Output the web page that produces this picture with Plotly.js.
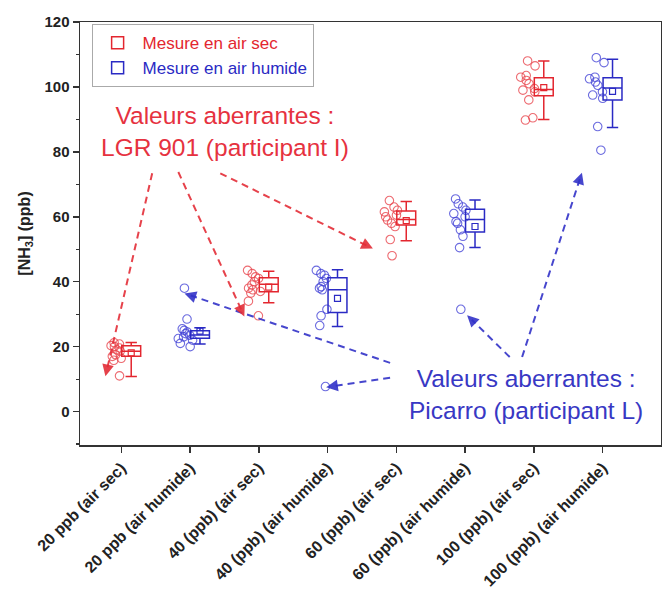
<!DOCTYPE html>
<html>
<head>
<meta charset="utf-8">
<script src="https://cdn.plot.ly/plotly-3.0.1.min.js"></script>
<style>
  html, body { margin: 0; padding: 0; background: #ffffff; }
  #chart { width: 662px; height: 596px; }
</style>
</head>
<body>
<div id="chart"></div>
<script>
// Categories on the x axis (one per concentration / humidity condition)
const categories = [
  '20 ppb (air sec)', '20 ppb (air humide)',
  '40 (ppb) (air sec)', '40 (ppb) (air humide)',
  '60 (ppb) (air sec)', '60 (ppb) (air humide)',
  '100 (ppb) (air sec)', '100 (ppb) (air humide)'
];
// Which categories belong to the dry-air series (the others are humid air)
const isDry = [true, false, true, false, true, false, true, false];

// Individual participant results, in ppb
const pts20sec  = [21.2, 20.8, 20.3, 20.0, 19.6, 19.0, 18.6, 17.5, 17.0, 16.4, 15.8, 11.0];
const pts20hum  = [38.0, 28.5, 25.5, 25.0, 24.5, 24.0, 23.5, 23.0, 22.5, 22.0, 21.0, 20.0];
const pts40sec  = [43.5, 42.5, 41.5, 41.0, 40.0, 39.0, 38.0, 37.5, 37.0, 36.5, 34.0, 29.5];
const pts40hum  = [43.5, 42.5, 42.0, 41.0, 40.0, 38.5, 38.0, 37.5, 31.5, 29.5, 26.5, 7.7];
const pts60sec  = [65.0, 63.0, 62.0, 61.5, 60.5, 60.0, 59.0, 58.0, 57.0, 53.0, 48.0];
const pts60hum  = [65.5, 64.0, 63.0, 62.0, 61.0, 60.0, 58.5, 58.0, 56.0, 54.0, 50.5, 31.5];
const pts100sec = [108.0, 106.5, 103.5, 103.0, 102.0, 101.0, 99.5, 99.0, 98.5, 96.0, 90.5, 89.8];
const pts100hum = [109.0, 107.5, 103.0, 102.5, 101.5, 100.5, 98.5, 97.5, 96.5, 87.8, 80.5];
const pointsByCategory = [pts20sec, pts20hum, pts40sec, pts40hum, pts60sec, pts60hum, pts100sec, pts100hum];

// Box statistics per category (ppb)
const boxQ1       = [17.0, 22.6, 36.9, 30.5, 57.5, 55.3, 97.3, 96.0];
const boxMedian   = [18.6, 23.6, 39.2, 37.5, 59.2, 59.2, 99.2, 99.7];
const boxQ3       = [20.3, 24.9, 41.2, 41.2, 61.8, 62.3, 102.8, 102.8];
const whiskerLow  = [10.8, 20.8, 33.5, 26.2, 52.6, 50.5, 90.0, 87.5];
const whiskerHigh = [21.3, 25.8, 43.2, 43.7, 64.7, 65.2, 108.0, 108.5];

// Series labels
const seriesNames = ['Mesure en air sec', 'Mesure en air humide'];

// Styling
const RED = '#e3262f', BLUE = '#2a2ac4';
const RED_PTS = 'rgba(232,70,78,0.8)', BLUE_PTS = 'rgba(70,70,215,0.8)';
const BOX_SHIFT = 0.145, BOX_WIDTH = 0.275;
const X_RANGE = [-0.6, 7.85], Y_RANGE = [-10.3, 120];
const MARGIN = {l: 80, r: 1, t: 22, b: 151};
const W = 662, H = 596;
const FONT = 'Liberation Sans, Arial, sans-serif';

const mean = a => a.reduce((s, v) => s + v, 0) / a.length;

function seriesTraces(dry, color, ptsColor, name) {
  const idx = categories.map((_, i) => i).filter(i => isDry[i] === dry);
  const xs = idx.map(i => i + BOX_SHIFT);
  const pick = arr => idx.map(i => arr[i]);

  // box from the summary statistics
  const box = {
    type: 'box', name: name, legendgroup: name,
    x: xs, q1: pick(boxQ1), median: pick(boxMedian), q3: pick(boxQ3),
    lowerfence: pick(whiskerLow), upperfence: pick(whiskerHigh),
    width: BOX_WIDTH, whiskerwidth: 0.6, boxpoints: false,
    line: {color: color, width: 1.5}, fillcolor: 'rgba(255,255,255,0)',
    hoverinfo: 'skip'
  };

  // raw results drawn beside each box
  const px = [], py = [];
  idx.forEach(i => pointsByCategory[i].forEach(v => { px.push(i + BOX_SHIFT); py.push(v); }));
  const pts = {
    type: 'box', x: px, y: py, showlegend: false, legendgroup: name,
    boxpoints: 'all', jitter: 0.95, pointpos: -2.75, width: BOX_WIDTH,
    line: {width: 0, color: 'rgba(0,0,0,0)'}, fillcolor: 'rgba(0,0,0,0)',
    marker: {symbol: 'circle-open', size: 8.5, color: ptsColor, line: {width: 1.1, color: ptsColor}},
    hoveron: 'points'
  };

  // mean of each category as a small open square
  const means = {
    type: 'scatter', mode: 'markers', showlegend: false, legendgroup: name,
    x: xs, y: idx.map(i => mean(pointsByCategory[i])),
    marker: {symbol: 'square-open', size: 6, color: color, line: {width: 1.2, color: color}}
  };
  return [pts, box, means];
}

const data = [
  ...seriesTraces(true, RED, RED_PTS, '<span style="color:' + RED + '">' + seriesNames[0] + '</span>'),
  ...seriesTraces(false, BLUE, BLUE_PTS, '<span style="color:' + BLUE + '">' + seriesNames[1] + '</span>')
];

// Dashed arrows pointing at the outlying results: [fromX, fromY, toX, toY]
const redArrows = [
  [0.45, 73.4, -0.23, 10.9],
  [0.83, 73.8, 1.79, 29.3],
  [1.44, 73.4, 3.66, 50.2]
];
const blueArrows = [
  [3.91, 15.0, 0.92, 36.4],
  [3.91, 10.4, 2.98, 7.5],
  [5.65, 16.8, 5.03, 29.7],
  [5.83, 16.8, 6.70, 73.6]
];

const pxPerX = (W - MARGIN.l - MARGIN.r) / (X_RANGE[1] - X_RANGE[0]);
const pxPerY = (H - MARGIN.t - MARGIN.b) / (Y_RANGE[1] - Y_RANGE[0]);
const HEAD = 11;

const shapes = [], annotations = [];
function addArrows(list, color) {
  list.forEach(([fx, fy, tx, ty]) => {
    const dxp = (fx - tx) * pxPerX, dyp = (fy - ty) * pxPerY;
    const len = Math.hypot(dxp, dyp);
    const f = (HEAD * 0.6) / len;
    shapes.push({
      type: 'line', xref: 'x', yref: 'y',
      x0: fx, y0: fy, x1: tx + (fx - tx) * f, y1: ty + (fy - ty) * f,
      line: {color: color, width: 2, dash: '7px,5px'}
    });
    annotations.push({
      x: tx, y: ty, xref: 'x', yref: 'y', text: '',
      showarrow: true, arrowhead: 2, arrowsize: 1.3, arrowwidth: 1.8,
      arrowcolor: color, standoff: 0,
      ax: dxp / len * HEAD, ay: -dyp / len * HEAD
    });
  });
}
addArrows(redArrows, 'rgba(227,45,55,0.9)');
addArrows(blueArrows, 'rgba(50,50,200,0.9)');

annotations.push({
  x: 1.51, y: 86.2, xref: 'x', yref: 'y', showarrow: false,
  xanchor: 'center', yanchor: 'middle', align: 'center',
  text: 'Valeurs aberrantes :<br>LGR 901 (participant I)',
  font: {family: FONT, size: 24.5, color: '#e6323f'}
});
annotations.push({
  x: 5.88, y: 5.4, xref: 'x', yref: 'y', showarrow: false,
  xanchor: 'center', yanchor: 'middle', align: 'center',
  text: 'Valeurs aberrantes :<br>Picarro (participant L)',
  font: {family: FONT, size: 24.5, color: '#3838c4'}
});

const layout = {
  width: W, height: H, margin: MARGIN,
  paper_bgcolor: '#ffffff', plot_bgcolor: '#ffffff',
  font: {family: FONT, color: '#222222'},
  showlegend: true,
  legend: {
    x: 0.02, y: 0.995, xanchor: 'left', yanchor: 'top',
    bgcolor: '#ffffff', bordercolor: '#aaaaaa', borderwidth: 1,
    font: {family: FONT, size: 17}, itemwidth: 40, tracegroupgap: 0
  },
  xaxis: {
    range: X_RANGE, tickmode: 'array',
    tickvals: categories.map((_, i) => i), ticktext: categories,
    tickangle: -45, ticks: 'outside', ticklen: 6, tickwidth: 1.5, tickcolor: '#333',
    tickfont: {family: FONT, size: 16, weight: 'bold', color: '#222'},
    showline: true, linecolor: '#333', linewidth: 1.5, mirror: true,
    showgrid: false, zeroline: false, automargin: false
  },
  yaxis: {
    range: Y_RANGE, tickmode: 'linear', tick0: 0, dtick: 20,
    ticks: 'outside', ticklen: 6, tickwidth: 1.5, tickcolor: '#333',
    minor: {dtick: 10, tick0: 0, ticks: 'outside', ticklen: 3, tickwidth: 1.2, tickcolor: '#333', showgrid: false},
    tickfont: {family: FONT, size: 15, weight: 'bold', color: '#222'},
    title: {text: '[NH<sub>3</sub>] (ppb)', font: {family: FONT, size: 16, weight: 'bold', color: '#222'}, standoff: 10},
    showline: true, linecolor: '#333', linewidth: 1.5, mirror: true,
    showgrid: false, zeroline: false, automargin: false
  },
  shapes: shapes,
  annotations: annotations
};

Plotly.newPlot('chart', data, layout, {staticPlot: true, displayModeBar: false});
</script>
</body>
</html>
